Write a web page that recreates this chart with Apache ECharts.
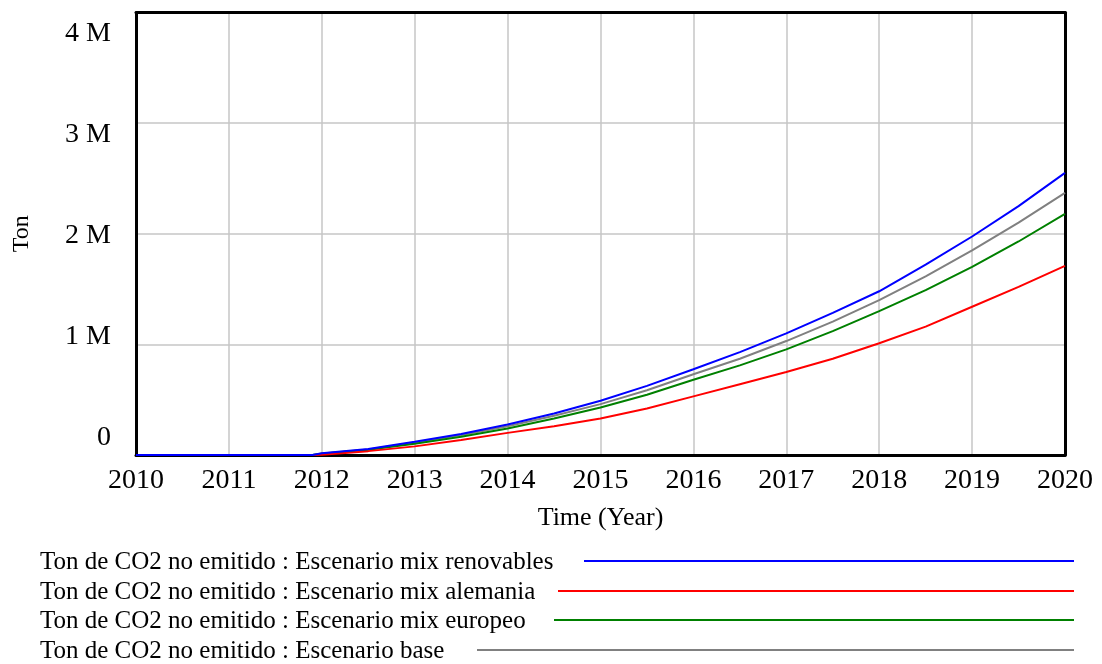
<!DOCTYPE html>
<html>
<head>
<meta charset="utf-8">
<script src="https://cdn.jsdelivr.net/npm/echarts@6/dist/echarts.min.js"></script>
<style>
  html, body { margin: 0; padding: 0; background: #fff; }
  #chart { width: 1102px; height: 664px; }
</style>
</head>
<body>
<div id="chart"></div>
<script>
// ---------- data (Ton de CO2 no emitido) ----------
var years = [2010, 2011, 2011.9, 2012, 2012.5, 2013, 2013.5, 2014, 2014.5, 2015, 2015.5,
             2016, 2016.5, 2017, 2017.5, 2018, 2018.5, 2019, 2019.5, 2020];

var renovables = [0, 0, 0, 15000, 55000, 120000, 190000, 275000, 375000, 490000, 625000,
                  775000, 930000, 1100000, 1285000, 1480000, 1720000, 1975000, 2250000, 2550000];
var alemania   = [0, 0, 0, 3000, 35000, 78000, 135000, 200000, 260000, 330000, 420000,
                  530000, 640000, 750000, 870000, 1010000, 1160000, 1340000, 1520000, 1710000];
var europeo    = [0, 0, 0, 12000, 47000, 102000, 165000, 240000, 330000, 430000, 545000,
                  680000, 810000, 955000, 1120000, 1300000, 1490000, 1700000, 1930000, 2180000];
var base       = [0, 0, 0, 13000, 50000, 112000, 180000, 260000, 355000, 460000, 585000,
                  730000, 870000, 1030000, 1205000, 1400000, 1615000, 1850000, 2100000, 2370000];

var seriesNames = [
  'Ton de CO2 no emitido : Escenario mix renovables',
  'Ton de CO2 no emitido : Escenario mix alemania',
  'Ton de CO2 no emitido : Escenario mix europeo',
  'Ton de CO2 no emitido : Escenario base'
];
var seriesValues = [renovables, alemania, europeo, base];
var yTicks = [0, 1000000, 2000000, 3000000, 4000000];

// estilo
var colorList = ['#0000ff', '#ff0000', '#008000', '#808080'];
var fontFamily = '"Liberation Serif", "Times New Roman", serif';
var lineStart = [584, 558, 554, 477];   // inicio de la linea de cada leyenda
var lineEnd = 1074;
var legendY = [561, 591, 620, 650];     // centro de cada fila

function pairs(vals) {
  return years.map(function (y, i) { return [y, vals[i]]; });
}

var series = seriesNames.map(function (name, i) {
  return {
    name: name,
    type: 'line',
    data: pairs(seriesValues[i]),
    yAxisIndex: 0,
    showSymbol: false,
    lineStyle: {color: colorList[i], width: 2},
    itemStyle: {color: colorList[i]},
    z: 10 - i
  };
});

// leyenda: por fila un componente para el texto y otro para la linea
var legends = [];
seriesNames.forEach(function (name, i) {
  legends.push({
    left: 34,
    top: legendY[i] - 13,
    itemWidth: 0,
    itemHeight: 0,
    padding: 0,
    data: [name],
    selectedMode: false,
    textStyle: {fontFamily: fontFamily, fontSize: 25, color: '#000', lineHeight: 28}
  });
  legends.push({
    left: lineStart[i],
    top: legendY[i] - 1,
    icon: 'rect',
    itemWidth: lineEnd - lineStart[i],
    itemHeight: 2,
    padding: 0,
    data: [name],
    selectedMode: false,
    formatter: function () { return ''; }
  });
});

// marco negro
var frameLine = {show: true, onZero: false, lineStyle: {color: '#000', width: 3}};

var chart = echarts.init(document.getElementById('chart'));

chart.setOption({
  backgroundColor: '#fff',
  animation: false,
  legend: legends,
  grid: {
    left: 136,
    right: 37,
    top: 12.5,
    bottom: 209
  },
  xAxis: [{
    type: 'value',
    min: 2010,
    max: 2020,
    interval: 1,
    name: 'Time (Year)',
    nameLocation: 'middle',
    nameGap: 50,
    nameTextStyle: {fontFamily: fontFamily, fontSize: 26, color: '#000'},
    axisLine: frameLine,
    axisTick: {show: false},
    axisLabel: {
      fontFamily: fontFamily, fontSize: 28, color: '#000', margin: 12,
      formatter: function (v) { return String(v); }
    },
    splitLine: {show: true, lineStyle: {color: '#c6c6c6', width: 1.5}}
  }, {
    type: 'value',
    position: 'top',
    min: 2010,
    max: 2020,
    axisLine: frameLine,
    axisTick: {show: false},
    axisLabel: {show: false},
    splitLine: {show: false}
  }],
  yAxis: [{
    type: 'value',
    min: 0,
    max: 4000000,
    interval: 1000000,
    axisLine: frameLine,
    axisTick: {show: false},
    axisLabel: {show: false},
    splitLine: {show: true, lineStyle: {color: '#c6c6c6', width: 1.5}}
  }, {
    // eje solo para las etiquetas (ligeramente desplazadas como en el original)
    type: 'value',
    position: 'left',
    min: -168000,
    max: 4208000,
    name: 'Ton',
    nameLocation: 'middle',
    nameRotate: 90,
    nameGap: 102,
    nameTextStyle: {fontFamily: fontFamily, fontSize: 24, color: '#000'},
    axisLine: {show: false, onZero: false},
    axisTick: {show: false},
    splitLine: {show: false},
    axisLabel: {
      customValues: yTicks,
      fontFamily: fontFamily,
      fontSize: 28,
      color: '#000',
      margin: 25,
      formatter: function (v) { return v === 0 ? '0' : (v / 1000000) + ' M'; }
    }
  }, {
    type: 'value',
    position: 'right',
    min: 0,
    max: 4000000,
    axisLine: frameLine,
    axisTick: {show: false},
    axisLabel: {show: false},
    splitLine: {show: false}
  }],
  series: series
});
</script>
</body>
</html>
